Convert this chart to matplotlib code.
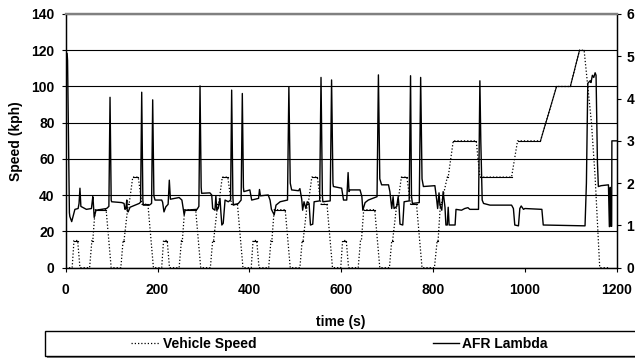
import matplotlib.pyplot as plt
import numpy as np
from matplotlib.patches import Rectangle

plt.rcParams['font.family'] = ['Liberation Sans', 'DejaVu Sans']
plt.rcParams['font.weight'] = 'bold'
plt.rcParams['font.size'] = 10

# vehicle speed, corner points of the drive cycle (s, kph)
speed_t = [0, 14, 18, 26, 31, 52, 57, 59, 64, 88, 99, 120, 125, 127, 136, 138, 146, 158, 166, 179, 191,
           209, 213, 221, 226, 247, 252, 254, 259, 283, 294, 315, 320, 322, 331, 333, 341, 353, 361, 374, 386,
           404, 408, 416, 421, 442, 447, 449, 454, 478, 489, 510, 515, 517, 526, 528, 536, 548, 556, 569, 581,
           599, 603, 611, 616, 637, 642, 644, 649, 673, 684, 705, 710, 712, 721, 723, 731, 743, 751, 764, 776,
           803, 809, 811, 816, 818, 831, 833, 844, 894, 902, 971, 984, 1034, 1069, 1099, 1119, 1129, 1145,
           1153, 1163, 1183]
speed_v = [0, 0, 15, 15, 0, 0, 15, 15, 32, 32, 0, 0, 15, 15, 35, 35, 50, 50, 35, 35, 0,
           0, 15, 15, 0, 0, 15, 15, 32, 32, 0, 0, 15, 15, 35, 35, 50, 50, 35, 35, 0,
           0, 15, 15, 0, 0, 15, 15, 32, 32, 0, 0, 15, 15, 35, 35, 50, 50, 35, 35, 0,
           0, 15, 15, 0, 0, 15, 15, 32, 32, 0, 0, 15, 15, 35, 35, 50, 50, 35, 35, 0,
           0, 15, 15, 35, 35, 50, 50, 70, 70, 50, 50, 70, 70, 100, 100, 120, 120, 80,
           50, 0, 0]

# AFR lambda trace (s, lambda)
lam_t = [0, 3, 4, 8, 9, 13, 17, 20, 27, 29,
         31, 33, 45, 56, 59, 60, 62, 66, 89, 94,
         96.5, 99, 100, 122, 127, 129, 131, 133, 134, 136,
         140, 160, 163, 165.5, 168, 169, 182, 187, 189.4, 192,
         194.5, 209, 211, 214, 218, 223, 225.6, 228, 247, 253,
         258, 260, 286, 290, 292.5, 295, 296, 314, 318, 320,
         325, 327, 329, 332, 336, 338, 340, 343, 347, 354,
         359, 361.4, 364, 365, 376, 382, 384.6, 387, 388, 401,
         405, 420, 422, 424, 441, 445, 448, 454, 458, 467,
         483, 486, 489, 492, 507, 510, 514, 516, 519, 523,
         526, 530, 533, 538, 541, 553, 556, 559, 560, 576,
         579, 582, 583, 601, 605, 612, 615, 617, 619, 641,
         645, 647, 652, 659, 678, 681, 684, 688, 703, 706,
         710, 713, 715, 721, 724, 726, 728, 734, 737, 748,
         751, 753, 755, 770, 773, 776, 779, 804, 808, 810,
         813, 815, 819, 822, 826, 828, 831, 833, 835, 848,
         850, 862, 869, 876, 880, 899, 902, 904, 907, 910,
         924, 971, 975, 978, 986, 989, 992, 997, 1000, 1037,
         1040, 1131, 1134, 1137, 1142, 1144, 1147, 1150, 1153, 1155,
         1158, 1160, 1166, 1182, 1184, 1186, 1187, 1189, 1189.5, 1200]
lam_v = [5.07, 5.07, 4.9, 1.3, 1.21, 1.09, 1.25, 1.38, 1.40, 1.52,
         1.88, 1.45, 1.38, 1.40, 1.68, 1.55, 1.19, 1.36, 1.40, 1.45,
         4.03, 1.6, 1.56, 1.54, 1.52, 1.38, 1.40, 1.60, 1.35, 1.32,
         1.43, 1.52, 1.55, 4.15, 1.6, 1.48, 1.48, 1.52, 3.97, 1.7,
         1.60, 1.60, 1.55, 1.32, 1.44, 1.50, 2.07, 1.62, 1.66, 1.60,
         1.25, 1.36, 1.38, 1.45, 4.30, 1.9, 1.76, 1.77, 1.72, 1.40,
         1.36, 1.70, 1.36, 1.40, 1.64, 1.30, 1.01, 1.05, 1.60, 1.56,
         1.6, 4.20, 1.7, 1.48, 1.52, 1.6, 4.12, 1.9, 1.80, 1.84,
         1.60, 1.64, 1.85, 1.70, 1.72, 1.60, 1.38, 1.25, 1.48, 1.56,
         1.60, 4.28, 2.0, 1.84, 1.82, 1.87, 1.62, 1.36, 1.56, 1.40,
         1.56, 1.52, 1.01, 1.03, 1.56, 1.58, 4.50, 1.7, 1.56, 1.58,
         4.44, 2.0, 1.92, 1.88, 1.60, 1.60, 2.25, 1.80, 1.84, 1.84,
         1.68, 1.36, 1.54, 1.60, 1.68, 4.56, 2.1, 1.96, 1.96, 1.80,
         1.40, 1.68, 1.40, 1.45, 1.68, 1.45, 1.03, 1.01, 1.56, 1.58,
         4.54, 1.7, 1.52, 1.54, 4.50, 2.1, 1.92, 1.94, 1.60, 1.40,
         1.77, 1.48, 1.36, 1.80, 1.43, 1.01, 1.01, 1.43, 1.01, 1.01,
         1.38, 1.36, 1.40, 1.42, 1.38, 1.38, 4.42, 3.0, 1.6, 1.52,
         1.48, 1.48, 1.40, 1.01, 0.99, 1.40, 1.46, 1.38, 1.40, 1.38,
         1.01, 0.99, 2.0, 4.36, 4.42, 4.38, 4.55, 4.50, 4.61, 4.55,
         2.5, 1.92, 1.94, 1.96, 0.97, 1.90, 0.98, 0.98, 3.0, 3.0]

fig = plt.figure(figsize=(6.35, 3.58), dpi=100)
ax = fig.add_axes([0.1035, 0.2522, 0.8677, 0.7087])

speed_line, = ax.plot(speed_t, speed_v, color='black', lw=0.9,
                      linestyle=(0, (1, 1.6)), label='Vehicle Speed')

# slow segments come out as a continuous line
t = np.array(speed_t, dtype=float)
v = np.array(speed_v, dtype=float)
slope = np.diff(v) / np.diff(t)
for i in range(len(slope)):
    if abs(slope[i]) <= 1.0 and max(v[i], v[i + 1]) > 0:
        ax.plot(t[i:i + 2], v[i:i + 2], color='black', lw=0.8)

ax.set_xlim(0, 1200)
ax.set_ylim(0, 140)
ax.set_xticks(range(0, 1201, 200))
ax.set_yticks(range(0, 141, 20))
ax.yaxis.grid(True, color='black', lw=0.8)
ax.set_axisbelow(True)
ax.tick_params(axis='x', direction='out', length=3, width=0.8, pad=8)
ax.tick_params(axis='y', direction='out', length=3, width=0.8, pad=5)
ax.set_xlabel('time (s)', fontweight='bold', labelpad=13)
ax.set_ylabel('Speed (kph)', fontweight='bold', labelpad=6)

ax2 = ax.twinx()
lam_line, = ax2.plot(lam_t, lam_v, color='black', lw=1.0, label='AFR Lambda')
ax2.set_ylim(0, 6)
ax2.set_yticks(range(0, 7))
ax2.tick_params(axis='y', direction='out', length=3, width=0.8, pad=4)

for a in (ax, ax2):
    for side in ('left', 'right', 'bottom'):
        a.spines[side].set_color('black')
        a.spines[side].set_linewidth(0.9)
    a.spines['top'].set_color('#808080')
    a.spines['top'].set_linewidth(1.6)

# legend strip under the plot
shadow = Rectangle((47 / 635, 0.0), 600 / 635, 25 / 358, transform=fig.transFigure,
                   facecolor='#808080', edgecolor='none', clip_on=False)
box = Rectangle((45 / 635, 2 / 358), 600 / 635, 25 / 358, transform=fig.transFigure,
                facecolor='white', edgecolor='black', lw=1.0, clip_on=False)
fig.patches.extend([shadow, box])

leg_y = 1 - 344 / 358
fig.legend(handles=[speed_line], loc='center left', bbox_to_anchor=(131 / 635, leg_y),
           frameon=False, borderpad=0, borderaxespad=0, handlelength=2.1,
           handletextpad=0.2, prop={'weight': 'bold', 'size': 10})
fig.legend(handles=[lam_line], loc='center left', bbox_to_anchor=(433 / 635, leg_y),
           frameon=False, borderpad=0, borderaxespad=0, handlelength=1.9,
           handletextpad=0.2, prop={'weight': 'bold', 'size': 10})

fig.savefig('out.png', dpi=100)
